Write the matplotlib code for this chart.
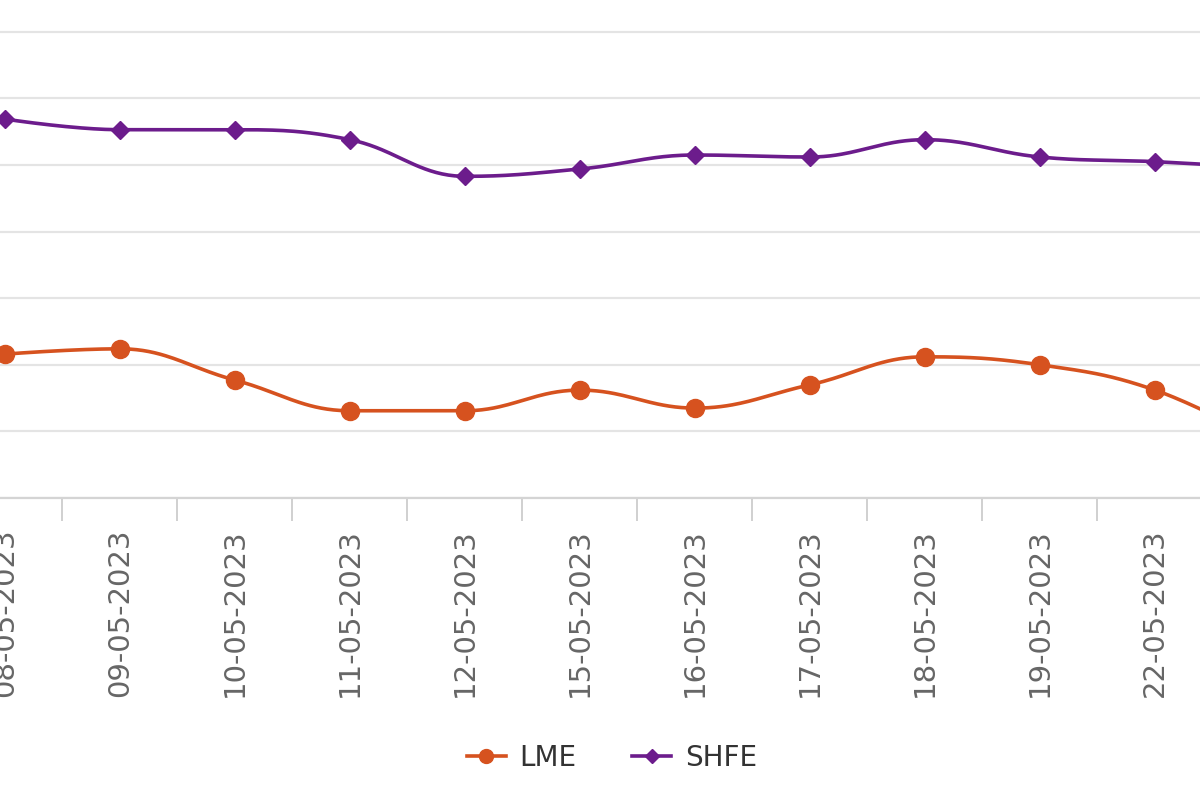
import numpy as np
import matplotlib
matplotlib.use("Agg")
from matplotlib import pyplot as plt
from matplotlib.ticker import FixedLocator, MultipleLocator

dates = ["08-05-2023", "09-05-2023", "10-05-2023", "11-05-2023", "12-05-2023",
         "15-05-2023", "16-05-2023", "17-05-2023", "18-05-2023", "19-05-2023",
         "22-05-2023", "23-05-2023"]
lme = [2116, 2124, 2077, 2031, 2031, 2062, 2035, 2070, 2112, 2100, 2062, 1980]
shfe = [2469, 2453, 2453, 2438, 2383, 2394, 2415, 2412, 2438, 2412, 2405, 2395]

LME_COLOR = "#d6521f"
SHFE_COLOR = "#6c1c8c"


def spline(xs, ys, n=40):
    # highcharts style spline (smoothing 1.5)
    xs = np.asarray(xs, float)
    ys = np.asarray(ys, float)
    k = len(xs)
    lc = [(x, y) for x, y in zip(xs, ys)]
    rc = [(x, y) for x, y in zip(xs, ys)]
    s, d = 1.5, 2.5
    for i in range(1, k - 1):
        px, py = xs[i], ys[i]
        lx, ly, nx, ny = xs[i-1], ys[i-1], xs[i+1], ys[i+1]
        lcx = (s*px + lx)/d
        lcy = (s*py + ly)/d
        rcx = (s*px + nx)/d
        rcy = (s*py + ny)/d
        corr = (rcy - lcy)*(rcx - px)/(rcx - lcx) + py - rcy
        lcy += corr
        rcy += corr
        if lcy > ly and lcy > py:
            lcy = max(ly, py); rcy = 2*py - lcy
        elif lcy < ly and lcy < py:
            lcy = min(ly, py); rcy = 2*py - lcy
        if rcy > ny and rcy > py:
            rcy = max(ny, py); lcy = 2*py - rcy
        elif rcy < ny and rcy < py:
            rcy = min(ny, py); lcy = 2*py - rcy
        lc[i] = (lcx, lcy)
        rc[i] = (rcx, rcy)
    t = np.linspace(0, 1, n)[:, None]
    out = []
    for i in range(1, k):
        p0 = np.array([xs[i-1], ys[i-1]])
        p1 = np.array(rc[i-1])
        p2 = np.array(lc[i])
        p3 = np.array([xs[i], ys[i]])
        seg = (1-t)**3*p0 + 3*(1-t)**2*t*p1 + 3*(1-t)*t**2*p2 + t**3*p3
        out.append(seg if i == 1 else seg[1:])
    out = np.vstack(out)
    return out[:, 0], out[:, 1]


x = np.arange(len(dates))

fig = plt.figure(figsize=(12, 8), dpi=100)
ax = fig.add_axes([0, 0.3775, 1, 0.6225])

sx, sy = spline(x, lme)
ax.plot(sx, sy, color=LME_COLOR, lw=2.6, zorder=3, solid_capstyle="round")
ax.plot(x, lme, ls="none", marker="o", ms=13, color=LME_COLOR, zorder=4)
sx, sy = spline(x, shfe)
ax.plot(sx, sy, color=SHFE_COLOR, lw=2.6, zorder=3, solid_capstyle="round")
ax.plot(x, shfe, ls="none", marker="D", ms=9, color=SHFE_COLOR, zorder=4)

ax.set_xticks(x)
ax.set_xticklabels(dates, rotation=90, fontsize=21, color="#666666", va="top")
ax.tick_params(axis="x", which="major", length=0, pad=22)
ax.xaxis.set_minor_locator(FixedLocator(x[:-1] + 0.5))
ax.tick_params(axis="x", which="minor", length=16.5, width=1.4, color="#d0d0d0")

ax.set_xlim(-5/115, 1200/115 - 5/115)
ax.set_ylim(1900, 1900 + 498/66.6*100)
ax.yaxis.set_major_locator(MultipleLocator(100))
ax.grid(axis="y", color="#e4e4e4", lw=1.6)
ax.set_axisbelow(True)
for sp in ["left", "right", "top"]:
    ax.spines[sp].set_visible(False)
ax.spines["bottom"].set_color("#d4d4d4")
ax.spines["bottom"].set_linewidth(1.6)
ax.tick_params(axis="y", left=False, labelleft=False)

h1 = plt.Line2D([], [], color=LME_COLOR, lw=2.6, marker="o", ms=10)
h2 = plt.Line2D([], [], color=SHFE_COLOR, lw=2.6, marker="D", ms=7)
fig.legend([h1, h2], ["LME", "SHFE"], loc="center", bbox_to_anchor=(0.51, 0.0525),
           ncol=2, frameon=False, handlelength=1.4, handletextpad=0.5,
           columnspacing=2.0, prop={"size": 20}, labelcolor="#333333")

fig.savefig("out.png", dpi=100)
